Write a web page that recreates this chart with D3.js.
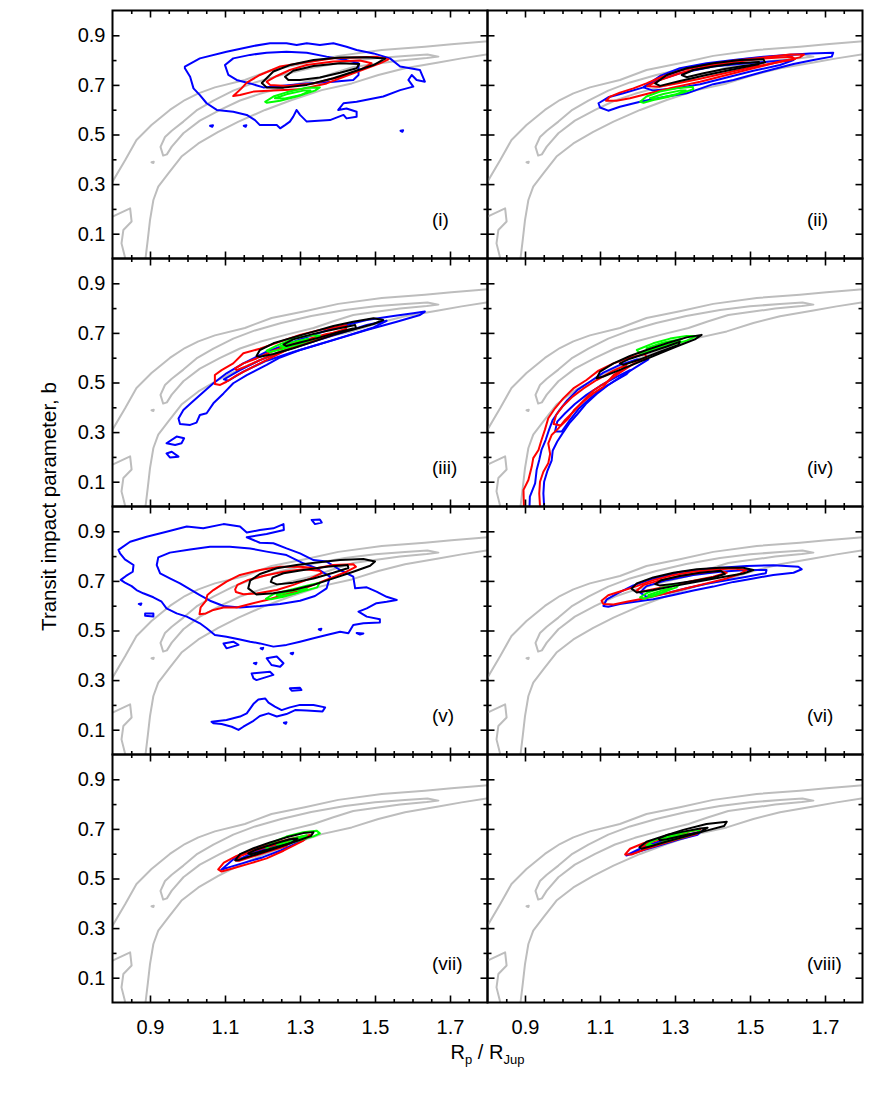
<!DOCTYPE html>
<html><head><meta charset="utf-8">
<script src="https://cdn.jsdelivr.net/npm/d3@7"></script>
<style>body{margin:0;background:#fff} text{font-family:"Liberation Sans",Arial,Helvetica,sans-serif}</style>
</head><body><svg id="c" width="872" height="1117"></svg>
<script>
// ---------- axis / label data ----------
const panelLabels = ["(i)","(ii)","(iii)","(iv)","(v)","(vi)","(vii)","(viii)"];
const xTicks = [0.9,1.1,1.3,1.5,1.7];
const xMinor = [0.85,0.95,1.0,1.05,1.15,1.2,1.25,1.35,1.4,1.45,1.55,1.6,1.65,1.75];
const yTicks = [0.1,0.3,0.5,0.7,0.9];
const yMinor = [0.2,0.4,0.6,0.8];
const xDomain = [0.8,1.8];
const yDomain = [0,1];

// ---------- grey reference contours (same in all panels) ----------
const greyTop = [[0.795,0.29],[0.800,0.310],[0.834,0.397],[0.864,0.478],[0.904,0.538],[0.953,0.599],[0.993,0.639],[1.029,0.666],[1.073,0.690],[1.153,0.720],[1.224,0.760],[1.313,0.787],[1.402,0.817],[1.518,0.841],[1.633,0.854],[1.704,0.864],[1.805,0.876]];
const greyBottom = [[0.888,-0.01],[0.888,0.0],[0.894,0.075],[0.900,0.155],[0.909,0.236],[0.922,0.290],[0.949,0.343],[0.984,0.411],[1.029,0.464],[1.082,0.511],[1.136,0.552],[1.207,0.599],[1.278,0.639],[1.358,0.679],[1.438,0.706],[1.509,0.740],[1.580,0.767],[1.669,0.790],[1.731,0.807],[1.805,0.824]];
const greyInner = [[0.935,0.415],[0.928,0.45],[0.94,0.49],[0.958,0.515],[0.989,0.552],[1.024,0.597],[1.069,0.637],[1.122,0.677],[1.18,0.71],[1.25,0.74],[1.33,0.768],[1.42,0.792],[1.50,0.807],[1.58,0.817],[1.64,0.823],[1.669,0.814],[1.638,0.808],[1.567,0.798],[1.504,0.785],[1.442,0.772],[1.389,0.747],[1.336,0.720],[1.264,0.693],[1.193,0.664],[1.140,0.637],[1.087,0.599],[1.033,0.556],[0.989,0.505],[0.958,0.451],[0.945,0.42]];
const greyCorner = [[0.795,0.165],[0.800,0.169],[0.847,0.202],[0.851,0.149],[0.829,0.115],[0.824,0.061],[0.833,0.007],[0.834,-0.01]];
const greyDot = [[0.904,0.388],[0.910,0.390],[0.909,0.385]];

// ---------- panel (i) ----------
const blueOuter1 = [[0.993,0.774],[1.033,0.807],[1.104,0.834],[1.176,0.857],[1.220,0.868],[1.264,0.868],[1.291,0.861],[1.318,0.868],[1.353,0.861],[1.389,0.868],[1.424,0.854],[1.451,0.841],[1.496,0.827],[1.540,0.807],[1.567,0.774],[1.620,0.760],[1.633,0.713],[1.611,0.720],[1.598,0.740],[1.589,0.720],[1.602,0.693],[1.567,0.679],[1.522,0.653],[1.451,0.632],[1.416,0.626],[1.402,0.599],[1.424,0.605],[1.451,0.592],[1.451,0.572],[1.424,0.565],[1.416,0.579],[1.380,0.558],[1.318,0.552],[1.300,0.579],[1.291,0.599],[1.282,0.572],[1.273,0.552],[1.260,0.538],[1.247,0.525],[1.238,0.538],[1.193,0.538],[1.180,0.558],[1.158,0.579],[1.122,0.592],[1.078,0.599],[1.051,0.626],[1.033,0.659],[1.016,0.686],[1.007,0.733],[0.993,0.767]];
const blueInner1 = [[1.100,0.780],[1.122,0.807],[1.167,0.821],[1.211,0.830],[1.264,0.834],[1.318,0.830],[1.371,0.814],[1.424,0.800],[1.456,0.787],[1.456,0.740],[1.442,0.720],[1.389,0.713],[1.318,0.706],[1.247,0.696],[1.202,0.690],[1.167,0.706],[1.131,0.720],[1.109,0.740]];
const blueDots1 = [[[1.060,0.535],[1.068,0.537],[1.066,0.531]],[[1.150,0.535],[1.157,0.537],[1.155,0.531]],[[1.568,0.515],[1.575,0.517],[1.573,0.511]]];
const redOuter1 = [[1.122,0.655],[1.144,0.686],[1.158,0.709],[1.193,0.740],[1.247,0.774],[1.300,0.787],[1.389,0.807],[1.504,0.814],[1.536,0.803],[1.513,0.787],[1.442,0.747],[1.371,0.706],[1.300,0.682],[1.229,0.677],[1.176,0.673],[1.140,0.659]];
const redInner1 = [[1.211,0.713],[1.238,0.736],[1.273,0.760],[1.318,0.780],[1.389,0.794],[1.460,0.798],[1.491,0.787],[1.460,0.760],[1.407,0.733],[1.336,0.706],[1.264,0.696],[1.220,0.700]];
const blackOuter1 = [[1.198,0.708],[1.229,0.754],[1.273,0.780],[1.336,0.800],[1.407,0.810],[1.478,0.811],[1.527,0.806],[1.496,0.780],[1.442,0.753],[1.389,0.727],[1.318,0.700],[1.256,0.689],[1.211,0.690]];
const blackInner1 = [[1.260,0.733],[1.282,0.757],[1.336,0.776],[1.407,0.787],[1.458,0.784],[1.451,0.767],[1.407,0.749],[1.353,0.730],[1.300,0.720],[1.269,0.720]];
const greenOuter1 = [[1.207,0.632],[1.229,0.653],[1.264,0.670],[1.318,0.689],[1.353,0.690],[1.340,0.677],[1.291,0.653],[1.247,0.636],[1.211,0.628]];
const greenInner1 = [[1.233,0.646],[1.264,0.662],[1.309,0.677],[1.328,0.677],[1.300,0.658],[1.260,0.645]];

// ---------- panel (ii) ----------
const blueOuter2 = [[1.096,0.626],[1.122,0.650],[1.162,0.666],[1.216,0.690],[1.260,0.736],[1.313,0.767],[1.384,0.787],[1.456,0.800],[1.536,0.814],[1.598,0.821],[1.660,0.827],[1.722,0.830],[1.718,0.814],[1.669,0.800],[1.616,0.784],[1.536,0.753],[1.456,0.720],[1.402,0.703],[1.331,0.666],[1.278,0.653],[1.207,0.632],[1.153,0.612],[1.122,0.596],[1.100,0.609]];
const blueInner2 = [[1.216,0.690],[1.242,0.713],[1.313,0.747],[1.402,0.774],[1.491,0.787],[1.553,0.794],[1.616,0.800],[1.580,0.780],[1.509,0.757],[1.438,0.730],[1.367,0.703],[1.296,0.685],[1.242,0.677]];
const redOuter2 = [[1.116,0.636],[1.127,0.653],[1.153,0.669],[1.189,0.686],[1.224,0.706],[1.260,0.730],[1.313,0.757],[1.384,0.780],[1.456,0.797],[1.536,0.811],[1.607,0.823],[1.644,0.823],[1.633,0.811],[1.580,0.794],[1.509,0.767],[1.438,0.740],[1.367,0.713],[1.296,0.690],[1.224,0.663],[1.180,0.646],[1.144,0.636]];
const redInner2 = [[1.226,0.695],[1.260,0.720],[1.313,0.747],[1.384,0.774],[1.456,0.792],[1.536,0.806],[1.611,0.814],[1.620,0.804],[1.580,0.792],[1.509,0.773],[1.438,0.749],[1.367,0.725],[1.304,0.706],[1.260,0.693]];
const blackOuter2 = [[1.247,0.706],[1.278,0.740],[1.331,0.767],[1.402,0.787],[1.473,0.800],[1.536,0.803],[1.540,0.791],[1.509,0.779],[1.447,0.760],[1.384,0.740],[1.313,0.716],[1.260,0.696]];
const blackInner2 = [[1.318,0.740],[1.349,0.760],[1.402,0.774],[1.464,0.787],[1.524,0.792],[1.522,0.783],[1.482,0.776],[1.429,0.763],[1.376,0.747],[1.331,0.731]];
const greenOuter2 = [[1.207,0.632],[1.224,0.653],[1.260,0.673],[1.304,0.686],[1.347,0.693],[1.349,0.683],[1.322,0.669],[1.278,0.650],[1.242,0.639],[1.216,0.628]];
const greenInner2 = [[1.233,0.646],[1.269,0.663],[1.313,0.677],[1.329,0.677],[1.300,0.661],[1.251,0.644]];

// ---------- panel (iii) ----------
const blueOuter3 = [[0.976,0.355],[0.989,0.389],[1.011,0.419],[1.038,0.456],[1.069,0.497],[1.104,0.537],[1.149,0.577],[1.211,0.624],[1.300,0.674],[1.389,0.719],[1.478,0.752],[1.549,0.768],[1.602,0.779],[1.633,0.786],[1.620,0.772],[1.558,0.745],[1.478,0.712],[1.389,0.671],[1.300,0.631],[1.247,0.601],[1.211,0.571],[1.158,0.530],[1.122,0.497],[1.096,0.456],[1.069,0.416],[1.051,0.376],[1.033,0.369],[1.024,0.338],[1.007,0.329],[0.980,0.333]];
const blueInner3 = [[1.097,0.513],[1.140,0.550],[1.193,0.590],[1.264,0.631],[1.336,0.665],[1.407,0.698],[1.478,0.732],[1.531,0.749],[1.496,0.722],[1.424,0.688],[1.353,0.655],[1.282,0.623],[1.211,0.588],[1.149,0.544],[1.109,0.507]];
const blueIsle3a = [[0.944,0.255],[0.971,0.282],[0.991,0.275],[0.984,0.255],[0.967,0.248]];
const blueIsle3b = [[0.944,0.214],[0.958,0.221],[0.976,0.201],[0.953,0.198]];
const redOuter3 = [[1.073,0.494],[1.073,0.530],[1.091,0.550],[1.122,0.577],[1.149,0.618],[1.193,0.636],[1.247,0.665],[1.300,0.692],[1.353,0.712],[1.424,0.731],[1.423,0.717],[1.371,0.692],[1.318,0.663],[1.264,0.631],[1.229,0.604],[1.193,0.577],[1.158,0.550],[1.131,0.529],[1.104,0.503],[1.087,0.490]];
const redInner3 = [[1.127,0.557],[1.149,0.577],[1.184,0.597],[1.229,0.628],[1.300,0.665],[1.371,0.696],[1.407,0.705],[1.389,0.692],[1.318,0.658],[1.247,0.624],[1.193,0.590],[1.158,0.566],[1.131,0.550]];
const blackOuter3 = [[1.184,0.607],[1.193,0.631],[1.229,0.658],[1.282,0.682],[1.336,0.705],[1.389,0.728],[1.442,0.745],[1.496,0.759],[1.522,0.752],[1.496,0.736],[1.442,0.714],[1.389,0.692],[1.336,0.665],[1.282,0.638],[1.229,0.615],[1.193,0.604]];
const blackInner3 = [[1.256,0.654],[1.282,0.674],[1.336,0.696],[1.389,0.714],[1.447,0.732],[1.449,0.721],[1.407,0.705],[1.353,0.682],[1.300,0.661],[1.264,0.647]];
const greenOuter3 = [[1.211,0.628],[1.238,0.649],[1.282,0.677],[1.327,0.690],[1.353,0.690],[1.340,0.677],[1.296,0.654],[1.251,0.634],[1.220,0.623]];
const greenInner3 = [[1.247,0.645],[1.282,0.663],[1.322,0.676],[1.300,0.658],[1.260,0.642]];

// ---------- panel (iv) ----------
const blueOuter4 = [[0.912,-0.01],[0.912,0.0],[0.913,0.040],[0.927,0.093],[0.931,0.147],[0.938,0.188],[0.944,0.228],[0.955,0.268],[0.964,0.309],[0.974,0.349],[0.992,0.389],[1.013,0.429],[1.040,0.470],[1.073,0.503],[1.109,0.540],[1.153,0.571],[1.198,0.593],[1.229,0.593],[1.198,0.564],[1.158,0.526],[1.122,0.490],[1.091,0.454],[1.062,0.413],[1.040,0.373],[1.018,0.335],[1.000,0.295],[0.986,0.262],[0.974,0.226],[0.971,0.185],[0.960,0.145],[0.951,0.100],[0.949,0.053],[0.951,0.0],[0.951,-0.01]];
const blueInner4 = [[0.980,0.302],[0.986,0.342],[1.007,0.376],[1.033,0.413],[1.064,0.450],[1.100,0.486],[1.144,0.523],[1.180,0.550],[1.171,0.534],[1.136,0.503],[1.100,0.470],[1.069,0.429],[1.042,0.392],[1.020,0.349],[0.998,0.302]];
const redOuter4 = [[0.897,-0.01],[0.897,0.0],[0.896,0.067],[0.909,0.107],[0.918,0.161],[0.922,0.195],[0.936,0.228],[0.944,0.268],[0.953,0.309],[0.962,0.356],[0.980,0.396],[1.002,0.436],[1.029,0.476],[1.064,0.510],[1.096,0.548],[1.136,0.577],[1.180,0.601],[1.220,0.615],[1.224,0.601],[1.189,0.575],[1.153,0.540],[1.118,0.503],[1.082,0.467],[1.056,0.427],[1.029,0.382],[1.007,0.349],[0.989,0.315],[0.971,0.288],[0.962,0.255],[0.967,0.212],[0.962,0.174],[0.949,0.140],[0.940,0.100],[0.938,0.053],[0.940,0.0],[0.940,-0.01]];
const redInner4 = [[0.976,0.333],[0.983,0.369],[1.000,0.403],[1.027,0.443],[1.056,0.476],[1.091,0.510],[1.136,0.548],[1.171,0.571],[1.162,0.556],[1.136,0.530],[1.109,0.483],[1.082,0.456],[1.056,0.423],[1.031,0.389],[1.016,0.356],[0.996,0.327]];
const blackOuter4 = [[1.091,0.517],[1.100,0.544],[1.136,0.577],[1.180,0.607],[1.224,0.631],[1.278,0.658],[1.331,0.682],[1.371,0.692],[1.353,0.674],[1.304,0.645],[1.260,0.618],[1.207,0.584],[1.153,0.551],[1.109,0.524]];
const blackInner4 = [[1.153,0.577],[1.180,0.596],[1.224,0.618],[1.278,0.645],[1.313,0.665],[1.309,0.651],[1.260,0.624],[1.207,0.593],[1.162,0.571]];
const greenOuter4 = [[1.198,0.631],[1.242,0.658],[1.287,0.677],[1.331,0.688],[1.358,0.688],[1.331,0.669],[1.287,0.650],[1.242,0.631],[1.207,0.618]];
const greenInner4 = [[1.224,0.638],[1.269,0.661],[1.318,0.675],[1.282,0.653],[1.238,0.634]];

// ---------- panel (v) ----------
const blueOuter5 = [[0.816,0.825],[0.847,0.858],[0.891,0.878],[0.944,0.898],[0.998,0.919],[1.042,0.912],[1.096,0.929],[1.140,0.919],[1.158,0.895],[1.193,0.905],[1.229,0.912],[1.256,0.929],[1.257,0.905],[1.211,0.889],[1.158,0.876],[1.193,0.854],[1.229,0.852],[1.264,0.831],[1.300,0.811],[1.336,0.784],[1.371,0.778],[1.407,0.744],[1.442,0.717],[1.447,0.670],[1.478,0.674],[1.504,0.657],[1.531,0.636],[1.558,0.623],[1.531,0.616],[1.504,0.610],[1.478,0.589],[1.456,0.576],[1.478,0.556],[1.513,0.545],[1.513,0.532],[1.469,0.529],[1.442,0.522],[1.429,0.489],[1.407,0.495],[1.371,0.482],[1.336,0.469],[1.300,0.455],[1.264,0.442],[1.229,0.435],[1.193,0.448],[1.167,0.455],[1.140,0.464],[1.104,0.475],[1.073,0.482],[1.051,0.509],[1.033,0.529],[0.998,0.556],[0.971,0.569],[0.944,0.589],[0.931,0.616],[0.909,0.634],[0.882,0.650],[0.864,0.663],[0.851,0.679],[0.833,0.693],[0.822,0.704],[0.836,0.720],[0.854,0.737],[0.856,0.764],[0.833,0.787],[0.820,0.811]];
const blueInner5 = [[0.918,0.764],[0.922,0.795],[0.953,0.814],[1.007,0.827],[1.060,0.838],[1.113,0.838],[1.167,0.831],[1.211,0.818],[1.264,0.804],[1.309,0.771],[1.344,0.751],[1.380,0.717],[1.371,0.670],[1.340,0.639],[1.300,0.620],[1.247,0.607],[1.193,0.599],[1.140,0.593],[1.096,0.599],[1.060,0.620],[1.033,0.643],[1.007,0.666],[0.980,0.690],[0.953,0.710],[0.927,0.730]];
const blueIsles5 = [
  [[1.331,0.946],[1.353,0.948],[1.358,0.935],[1.340,0.929]],
  [[0.870,0.607],[0.877,0.609],[0.875,0.603]],
  [[0.887,0.569],[0.909,0.569],[0.909,0.556],[0.887,0.559]],
  [[1.350,0.505],[1.357,0.507],[1.355,0.501]],
  [[1.451,0.490],[1.469,0.488],[1.460,0.484]],
  [[1.096,0.448],[1.122,0.455],[1.136,0.442],[1.104,0.428]],
  [[1.195,0.428],[1.202,0.430],[1.200,0.424]],
  [[1.275,0.408],[1.282,0.410],[1.280,0.404]],
  [[1.177,0.368],[1.184,0.370],[1.182,0.364]],
  [[1.211,0.388],[1.238,0.395],[1.256,0.368],[1.247,0.354],[1.224,0.361]],
  [[1.171,0.327],[1.220,0.334],[1.229,0.321],[1.184,0.300],[1.176,0.307]],
  [[1.273,0.267],[1.300,0.269],[1.304,0.260],[1.278,0.257]],
  [[1.064,0.132],[1.104,0.139],[1.140,0.153],[1.158,0.166],[1.177,0.206],[1.189,0.222],[1.207,0.226],[1.216,0.209],[1.233,0.193],[1.251,0.179],[1.273,0.190],[1.300,0.200],[1.336,0.200],[1.367,0.190],[1.360,0.173],[1.318,0.177],[1.287,0.179],[1.264,0.163],[1.238,0.153],[1.216,0.166],[1.193,0.155],[1.176,0.136],[1.149,0.112],[1.136,0.099],[1.118,0.112],[1.091,0.123],[1.069,0.126]],
  [[1.257,0.128],[1.264,0.130],[1.262,0.124]]
];
const redOuter5 = [[1.032,0.566],[1.035,0.593],[1.049,0.619],[1.053,0.643],[1.069,0.663],[1.104,0.697],[1.140,0.724],[1.193,0.744],[1.247,0.757],[1.300,0.757],[1.344,0.751],[1.389,0.764],[1.442,0.767],[1.449,0.757],[1.424,0.737],[1.380,0.710],[1.336,0.684],[1.300,0.663],[1.256,0.643],[1.211,0.623],[1.167,0.607],[1.131,0.593],[1.096,0.593],[1.069,0.583],[1.049,0.569]];
const redInner5 = [[1.127,0.666],[1.133,0.684],[1.162,0.704],[1.207,0.722],[1.256,0.737],[1.309,0.747],[1.353,0.741],[1.358,0.731],[1.327,0.709],[1.282,0.684],[1.238,0.663],[1.184,0.649],[1.149,0.646],[1.129,0.655]];
const blackOuter5 = [[1.162,0.670],[1.167,0.701],[1.193,0.728],[1.238,0.751],[1.291,0.764],[1.344,0.774],[1.407,0.784],[1.469,0.788],[1.500,0.778],[1.487,0.761],[1.442,0.737],[1.389,0.710],[1.336,0.684],[1.282,0.663],[1.229,0.650],[1.184,0.645]];
const blackInner5 = [[1.222,0.696],[1.227,0.714],[1.256,0.731],[1.309,0.744],[1.371,0.757],[1.427,0.764],[1.429,0.752],[1.389,0.733],[1.336,0.710],[1.282,0.693],[1.238,0.686]];
const greenOuter5 = [[1.209,0.628],[1.229,0.647],[1.273,0.663],[1.318,0.681],[1.353,0.693],[1.346,0.674],[1.300,0.655],[1.256,0.636],[1.222,0.626]];
const greenInner5 = [[1.238,0.643],[1.282,0.661],[1.318,0.669],[1.291,0.651],[1.247,0.638]];

// ---------- panel (vi) ----------
const blueOuter6 = [[1.109,0.599],[1.118,0.626],[1.153,0.655],[1.189,0.682],[1.242,0.709],[1.313,0.736],[1.402,0.751],[1.491,0.760],[1.562,0.763],[1.629,0.757],[1.638,0.747],[1.616,0.733],[1.562,0.724],[1.509,0.710],[1.456,0.696],[1.402,0.677],[1.349,0.661],[1.296,0.643],[1.242,0.626],[1.189,0.615],[1.153,0.607],[1.122,0.596]];
const blueInner6 = [[1.207,0.653],[1.224,0.679],[1.278,0.703],[1.349,0.724],[1.420,0.737],[1.491,0.744],[1.544,0.744],[1.542,0.731],[1.491,0.717],[1.438,0.703],[1.384,0.688],[1.331,0.670],[1.278,0.650],[1.224,0.636]];
const redOuter6 = [[1.104,0.620],[1.122,0.642],[1.162,0.661],[1.198,0.679],[1.242,0.703],[1.296,0.724],[1.349,0.737],[1.402,0.746],[1.456,0.750],[1.491,0.744],[1.473,0.728],[1.438,0.710],[1.384,0.690],[1.331,0.670],[1.278,0.650],[1.224,0.631],[1.171,0.616],[1.136,0.605],[1.109,0.607]];
const redInner6 = [[1.198,0.661],[1.216,0.683],[1.260,0.703],[1.313,0.720],[1.367,0.733],[1.420,0.741],[1.438,0.733],[1.402,0.717],[1.349,0.701],[1.296,0.683],[1.242,0.666],[1.207,0.655]];
const blackOuter6 = [[1.184,0.669],[1.198,0.690],[1.242,0.714],[1.296,0.733],[1.358,0.747],[1.420,0.753],[1.482,0.753],[1.509,0.744],[1.482,0.730],[1.420,0.714],[1.358,0.697],[1.296,0.679],[1.242,0.663],[1.198,0.653]];
const blackInner6 = [[1.247,0.687],[1.264,0.703],[1.313,0.720],[1.367,0.733],[1.422,0.741],[1.433,0.728],[1.402,0.714],[1.349,0.700],[1.296,0.688],[1.260,0.681]];
const greenOuter6 = [[1.207,0.634],[1.227,0.653],[1.264,0.671],[1.313,0.690],[1.304,0.674],[1.273,0.658],[1.242,0.642],[1.218,0.628]];
const greenInner6 = [[1.229,0.643],[1.264,0.661],[1.291,0.670],[1.269,0.653],[1.238,0.636]];

// ---------- panel (vii) ----------
const blueOuter7 = [[1.090,0.535],[1.130,0.588],[1.180,0.615],[1.230,0.638],[1.280,0.658],[1.325,0.672],[1.305,0.652],[1.250,0.614],[1.200,0.585],[1.150,0.563],[1.110,0.545]];
const blueInner7 = [[1.135,0.575],[1.180,0.608],[1.230,0.630],[1.270,0.646],[1.255,0.633],[1.205,0.607],[1.160,0.585]];
const redOuter7 = [[1.082,0.537],[1.097,0.564],[1.131,0.591],[1.176,0.618],[1.229,0.642],[1.282,0.662],[1.327,0.675],[1.309,0.653],[1.256,0.612],[1.211,0.581],[1.167,0.561],[1.122,0.541],[1.091,0.528]];
const redInner7 = [[1.129,0.572],[1.142,0.591],[1.176,0.611],[1.229,0.634],[1.273,0.650],[1.264,0.631],[1.211,0.607],[1.167,0.585],[1.140,0.572]];
const blackOuter7 = [[1.127,0.574],[1.140,0.598],[1.176,0.622],[1.220,0.645],[1.264,0.666],[1.309,0.683],[1.336,0.687],[1.329,0.671],[1.291,0.651],[1.247,0.628],[1.202,0.606],[1.158,0.585],[1.136,0.574]];
const blackInner7 = [[1.162,0.601],[1.184,0.617],[1.229,0.639],[1.273,0.658],[1.293,0.661],[1.276,0.643],[1.229,0.623],[1.184,0.604],[1.167,0.597]];
const greenOuter7 = [[1.207,0.626],[1.229,0.647],[1.264,0.669],[1.309,0.687],[1.344,0.693],[1.353,0.682],[1.336,0.670],[1.300,0.655],[1.256,0.636],[1.220,0.620]];
const greenInner7 = [[1.238,0.639],[1.273,0.658],[1.318,0.674],[1.300,0.659],[1.256,0.640]];

// ---------- panel (viii) ----------
const blueOuter8 = [[1.170,0.593],[1.220,0.630],[1.280,0.657],[1.330,0.676],[1.370,0.690],[1.360,0.676],[1.310,0.657],[1.260,0.634],[1.210,0.612]];
const blueInner8 = [[1.215,0.625],[1.260,0.650],[1.310,0.670],[1.330,0.676],[1.300,0.660],[1.250,0.640]];
const redOuter8 = [[1.167,0.597],[1.180,0.620],[1.216,0.642],[1.260,0.662],[1.313,0.682],[1.367,0.698],[1.358,0.679],[1.313,0.661],[1.264,0.639],[1.220,0.618],[1.184,0.597]];
const redInner8 = [[1.211,0.626],[1.224,0.640],[1.260,0.658],[1.304,0.674],[1.333,0.682],[1.318,0.666],[1.269,0.646],[1.224,0.626]];
const blackOuter8 = [[1.205,0.626],[1.224,0.648],[1.269,0.671],[1.322,0.696],[1.384,0.720],[1.438,0.729],[1.431,0.712],[1.384,0.693],[1.331,0.671],[1.278,0.649],[1.233,0.629],[1.211,0.620]];
const blackInner8 = [[1.256,0.661],[1.278,0.675],[1.322,0.689],[1.367,0.702],[1.387,0.705],[1.369,0.688],[1.322,0.673],[1.278,0.658],[1.260,0.654]];
const greenOuter8 = [[1.224,0.634],[1.242,0.653],[1.278,0.670],[1.322,0.685],[1.360,0.696],[1.367,0.688],[1.331,0.671],[1.287,0.653],[1.247,0.636]];
const greenInner8 = [[1.260,0.655],[1.296,0.669],[1.331,0.679],[1.313,0.666],[1.273,0.653]];

// ---------- assemble panels ----------
const panels = [
  {blue:[blueOuter1,blueInner1,...blueDots1], red:[redOuter1,redInner1], green:[greenOuter1,greenInner1], black:[blackOuter1,blackInner1]},
  {blue:[blueOuter2,blueInner2], red:[redOuter2,redInner2], green:[greenOuter2,greenInner2], black:[blackOuter2,blackInner2]},
  {blue:[blueOuter3,blueInner3,blueIsle3a,blueIsle3b], red:[redOuter3,redInner3], green:[greenOuter3,greenInner3], black:[blackOuter3,blackInner3]},
  {blue:[blueOuter4,blueInner4], red:[redOuter4,redInner4], green:[greenOuter4,greenInner4], black:[blackOuter4,blackInner4]},
  {blue:[blueOuter5,blueInner5,...blueIsles5], red:[redOuter5,redInner5], green:[greenOuter5,greenInner5], black:[blackOuter5,blackInner5]},
  {blue:[blueOuter6,blueInner6], red:[redOuter6,redInner6], green:[greenOuter6,greenInner6], black:[blackOuter6,blackInner6]},
  {blue:[blueOuter7,blueInner7], red:[redOuter7,redInner7], green:[greenOuter7,greenInner7], black:[blackOuter7,blackInner7]},
  {blue:[blueOuter8,blueInner8], red:[redOuter8,redInner8], green:[greenOuter8,greenInner8], black:[blackOuter8,blackInner8]}
];
const colors = {grey:"#bdbdbd", blue:"#0000ff", red:"#ff0000", green:"#00ff00", black:"#000000"};

// ---------- layout ----------
const L = 112.5, T = 10.5, PW = 375, PH = 248;
const svg = d3.select("#c");
const x = d3.scaleLinear(xDomain, [0, PW]);
const y = d3.scaleLinear(yDomain, [PH, 0]);
const lineOpen = d3.line().x(d => x(d[0])).y(d => y(d[1]));
const lineClosed = d3.line().x(d => x(d[0])).y(d => y(d[1])).curve(d3.curveLinearClosed);
const fmt = d3.format(".1f");

panels.forEach((p, i) => {
  const col = i % 2, row = Math.floor(i / 2);
  const g = svg.append("g").attr("transform", `translate(${L + col * PW},${T + row * PH})`);
  const cid = "clip" + i;
  g.append("clipPath").attr("id", cid).append("rect").attr("width", PW).attr("height", PH);
  const pg = g.append("g").attr("clip-path", `url(#${cid})`)
    .attr("fill", "none").attr("stroke-width", 2).attr("stroke-linejoin", "round").attr("stroke-linecap", "round");

  // grey
  [greyTop, greyBottom, greyCorner].forEach(d => pg.append("path").attr("d", lineOpen(d)).attr("stroke", colors.grey));
  [greyInner, greyDot].forEach(d => pg.append("path").attr("d", lineClosed(d)).attr("stroke", colors.grey));

  ["blue", "red", "green", "black"].forEach(k => {
    p[k].forEach(d => {
      const first = d[0], last = d[d.length - 1];
      const open = first[1] < 0 && last[1] < 0;
      pg.append("path").attr("d", open ? lineOpen(d) : lineClosed(d)).attr("stroke", colors[k]);
    });
  });

  // axes
  const axStyle = a => { a.select(".domain").remove(); a.selectAll("line").attr("stroke", "#000").attr("stroke-width", 1.6);
    a.selectAll("text").attr("font-size", 20).attr("fill", "#000").attr("font-family", '"Liberation Sans",Arial,Helvetica,sans-serif'); };
  g.append("g").attr("transform", `translate(0,${PH})`)
    .call(d3.axisBottom(x).tickValues(xTicks).tickSize(-7).tickPadding(17).tickFormat(row === 3 ? fmt : () => "")).call(axStyle);
  g.append("g").attr("transform", `translate(0,${PH})`)
    .call(d3.axisBottom(x).tickValues(xMinor).tickSize(-3.5).tickFormat(() => "")).call(axStyle);
  g.append("g").call(d3.axisTop(x).tickValues(xTicks).tickSize(-7).tickFormat(() => "")).call(axStyle);
  g.append("g").call(d3.axisTop(x).tickValues(xMinor).tickSize(-3.5).tickFormat(() => "")).call(axStyle);
  g.append("g").call(d3.axisLeft(y).tickValues(yTicks).tickSize(-7).tickPadding(7).tickFormat(col === 0 ? fmt : () => "")).call(axStyle);
  g.append("g").call(d3.axisLeft(y).tickValues(yMinor).tickSize(-4).tickFormat(() => "")).call(axStyle);
  g.append("g").attr("transform", `translate(${PW},0)`).call(d3.axisRight(y).tickValues(yTicks).tickSize(-7).tickFormat(() => "")).call(axStyle);
  g.append("g").attr("transform", `translate(${PW},0)`).call(d3.axisRight(y).tickValues(yMinor).tickSize(-4).tickFormat(() => "")).call(axStyle);

  g.append("rect").attr("width", PW).attr("height", PH).attr("fill", "none").attr("stroke", "#000").attr("stroke-width", 2);

  g.append("text").attr("x", 319.5).attr("y", PH - 33).attr("font-size", 19).text(panelLabels[i]);
});

// axis titles
svg.append("text").attr("transform", `translate(56,${T + 2 * PH}) rotate(-90)`)
  .attr("text-anchor", "middle").attr("font-size", 20.5).text("Transit impact parameter, b");
const xt = svg.append("text").attr("x", L + PW).attr("y", 1059).attr("text-anchor", "middle").attr("font-size", 20);
xt.append("tspan").text("R");
xt.append("tspan").attr("font-size", 13).attr("dy", 5).text("p");
xt.append("tspan").attr("dy", -5).text(" / R");
xt.append("tspan").attr("font-size", 13).attr("dy", 5).text("Jup");
</script></body></html>
